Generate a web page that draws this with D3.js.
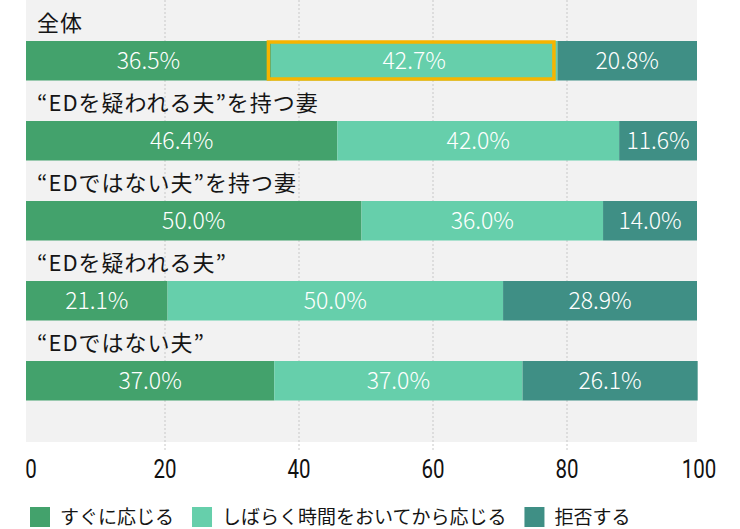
<!DOCTYPE html>
<html><head><meta charset="utf-8">
<script src="https://cdn.jsdelivr.net/npm/d3@7"></script>
<style>
html,body{margin:0;padding:0;background:#fff;}
svg{display:block;}
</style></head>
<body>
<svg id="chart" width="740" height="529"></svg>
<script>
const categories = ["全体", "“EDを疑われる夫”を持つ妻", "“EDではない夫”を持つ妻", "“EDを疑われる夫”", "“EDではない夫”"];
const immediate = [36.5, 46.4, 50.0, 21.1, 37.0];
const later = [42.7, 42.0, 36.0, 50.0, 37.0];
const refuse = [20.8, 11.6, 14.0, 28.9, 26.1];
const seriesNames = ["すぐに応じる", "しばらく時間をおいてから応じる", "拒否する"];
const tickValues = [0, 20, 40, 60, 80, 100];
const gridValues = [20, 40, 60, 80];
const highlight = {row: 0, series: 1};

const colors = ["#43a26c", "#66cfab", "#3f8f85"];
const svg = d3.select("#chart");
const FONT = "'Noto Sans CJK JP', 'Noto Sans', sans-serif";

const xBar = d3.scaleLinear().domain([0, 100]).range([26, 697]);
const xAxis = d3.scaleLinear().domain([0, 100]).range([31, 701]);
const y = d3.scaleBand().domain(categories).range([0, 400]).paddingInner(0).paddingOuter(0);
const bandH = y.bandwidth();
const barTop = c => y(c) + bandH / 2 + 1;
const barH = bandH / 2 - 0.5;

// background
svg.append("rect").attr("x", xBar(0)).attr("y", 0)
  .attr("width", xBar(100) - xBar(0)).attr("height", 442).attr("fill", "#f2f2f2");

// grid
svg.append("g").selectAll("line").data(gridValues).join("line")
  .attr("x1", d => xAxis(d)).attr("x2", d => xAxis(d))
  .attr("y1", 0).attr("y2", 450)
  .attr("stroke", "#c8c8c8").attr("stroke-width", 1).attr("stroke-dasharray", "2,2");

// stacked data
const rows = categories.map((c, i) => ({cat: c, values: [immediate[i], later[i], refuse[i]]}));
const stackData = rows.map(r => { const o = {cat: r.cat}; seriesNames.forEach((s, j) => o[s] = r.values[j]); return o; });
const stacked = d3.stack().keys(seriesNames)(stackData);

const gBars = svg.append("g");
stacked.forEach((layer, j) => {
  const g = gBars.append("g");
  g.selectAll("rect").data(layer).join("rect")
    .attr("x", d => xBar(d[0])).attr("y", d => barTop(d.data.cat))
    .attr("width", d => xBar(d[1]) - xBar(d[0])).attr("height", barH)
    .attr("fill", colors[j]);
  g.selectAll("text").data(layer).join("text")
    .attr("x", d => (xBar(d[0]) + xBar(d[1])) / 2)
    .attr("y", d => barTop(d.data.cat) + barH / 2 + 8.5)
    .attr("text-anchor", "middle").attr("fill", "#fff")
    .attr("font-family", FONT).attr("font-weight", 300).attr("font-size", 23)
    .text(d => (d[1] - d[0]).toFixed(1) + "%");
});

// highlight border
{
  const d = stacked[highlight.series][highlight.row];
  const c = d.data.cat;
  svg.append("rect")
    .attr("x", xBar(d[0]) - 2.5).attr("y", barTop(c) + 1)
    .attr("width", xBar(d[1]) - xBar(d[0]) - 1).attr("height", barH - 2.5)
    .attr("fill", "none").attr("stroke", "#f6b400").attr("stroke-width", 3.5);
}

// category labels
svg.append("g").selectAll("text").data(categories).join("text")
  .attr("x", 37)
  .attr("y", d => barTop(d) - 10)
  .attr("font-family", FONT).attr("font-size", 22).attr("letter-spacing", 1).attr("fill", "#151515")
  .text(d => d);

// axis tick labels
svg.append("g").selectAll("text").data(tickValues).join("text")
  .attr("transform", d => `translate(${xAxis(d) - (d === 100 ? 2 : 0)},478) scale(0.82,1)`)
  .attr("text-anchor", "middle")
  .attr("font-family", "'Roboto', 'Noto Sans', sans-serif").attr("font-weight", 400).attr("font-size", 25).attr("fill", "#111")
  .text(d => d);

// legend
const lg = svg.append("g");
let lx = 30;
seriesNames.forEach((s, j) => {
  lg.append("rect").attr("x", lx).attr("y", 507).attr("width", 20).attr("height", 20).attr("fill", colors[j]);
  const t = lg.append("text").attr("x", lx + 30).attr("y", 524)
    .attr("font-family", FONT).attr("font-size", 19).attr("fill", "#151515").text(s);
  lx += 30 + t.node().getComputedTextLength() + 18;
});
</script>
</body></html>
